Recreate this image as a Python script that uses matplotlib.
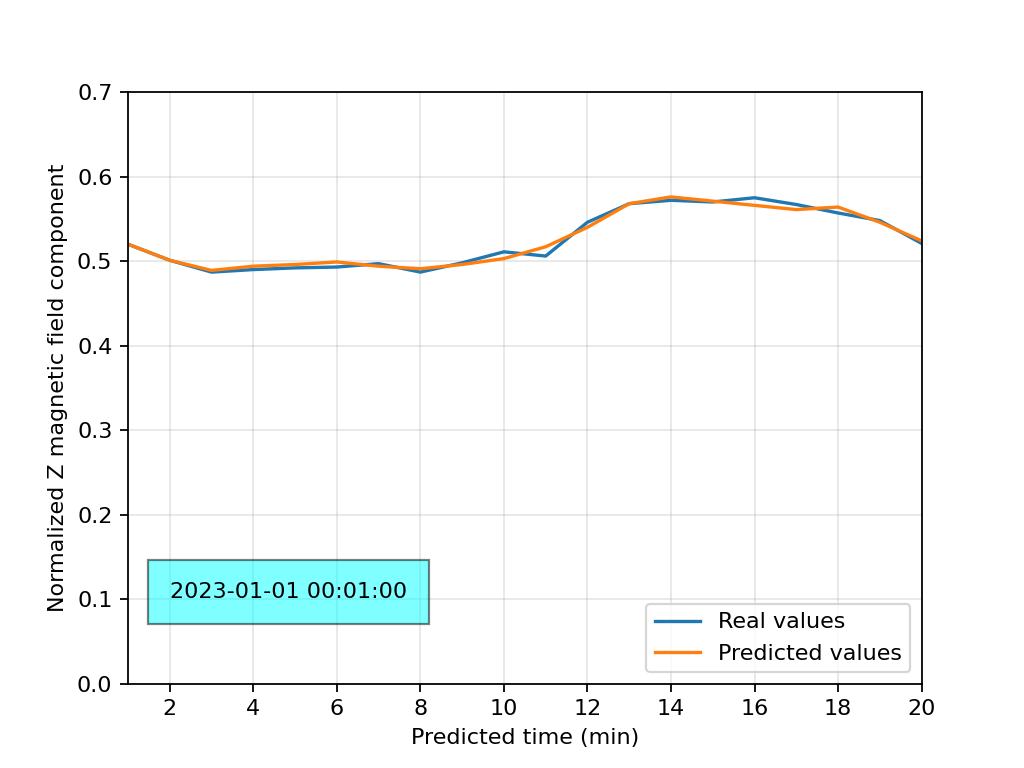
import matplotlib
matplotlib.use("Agg")
import matplotlib.pyplot as plt

minutes = list(range(1, 21))
real_values = [0.520, 0.501, 0.487, 0.490, 0.492, 0.493, 0.497, 0.487, 0.498, 0.511,
               0.506, 0.546, 0.568, 0.572, 0.570, 0.575, 0.567, 0.557, 0.548, 0.521]
predicted_values = [0.520, 0.501, 0.489, 0.494, 0.496, 0.499, 0.494, 0.491, 0.496, 0.503,
                    0.517, 0.540, 0.568, 0.576, 0.571, 0.566, 0.561, 0.564, 0.546, 0.524]
timestamp = "2023-01-01 00:01:00"

fig, ax = plt.subplots(figsize=(6.4, 4.8), dpi=160)
ax.plot(minutes, real_values, label="Real values")
ax.plot(minutes, predicted_values, label="Predicted values")
ax.set_xlim(1, 20)
ax.set_ylim(0, 0.7)
ax.set_xticks(range(2, 21, 2))
ax.set_xlabel("Predicted time (min)")
ax.set_ylabel("Normalized Z magnetic field component")
ax.grid(alpha=0.3)
ax.legend(loc="lower right")
ax.text(0.202, 0.155, timestamp, transform=ax.transAxes, ha="center", va="center",
        bbox=dict(facecolor="cyan", alpha=0.5, pad=10))

fig.savefig("out.png", dpi=160)
